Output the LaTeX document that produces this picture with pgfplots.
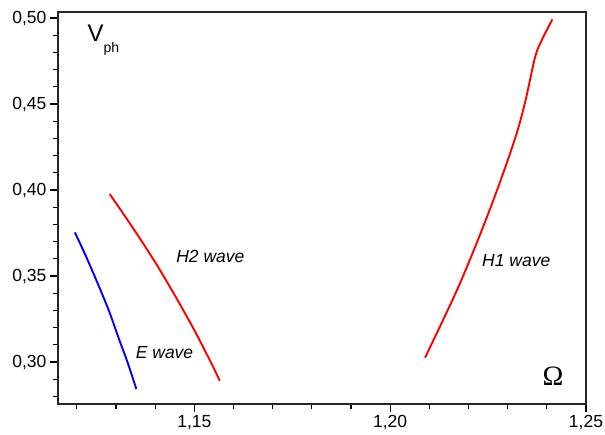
\documentclass[border=0pt]{standalone}
\usepackage{fontspec}
\setmainfont{Liberation Sans}
\newfontfamily\seriffont{Liberation Serif}
\usepackage{pgfplots}
\pgfplotsset{compat=1.18}
\begin{document}
\begin{tikzpicture}
\begin{axis}[
  at={(0pt,0pt)}, anchor=south west,
  scale only axis, width=528pt, height=392pt,
  xmin=1.1152, xmax=1.25, ymin=0.2756, ymax=0.5035,
  xtick={1.15,1.20,1.25},
  ytick={0.30,0.35,0.40,0.45,0.50},
  minor xtick={1.12,1.13,1.14,1.16,1.17,1.18,1.19,1.21,1.22,1.23,1.24},
  minor ytick={0.28,0.29,0.31,0.32,0.33,0.34,0.36,0.37,0.38,0.39,0.41,0.42,0.43,0.44,0.46,0.47,0.48,0.49},
  xtick pos=bottom, ytick pos=left,
  tick align=outside,
  major tick length=8pt, minor tick length=5pt,
  every tick/.style={black, line width=1.1pt},
  axis line style={line width=1.4pt, black!85},
  tick label style={font=\fontsize{17.5}{20}\selectfont},
  /pgf/number format/assume math mode=true,
  /pgf/number format/.cd, fixed, fixed zerofill, precision=2, use comma,
]
% E wave
\addplot[blue, line width=1.9pt, smooth] coordinates {
  (1.1195,0.3754) (1.1222,0.3622) (1.1255,0.3448) (1.1283,0.3292) (1.1307,0.3138) (1.1329,0.3002) (1.1352,0.2843)
};
% H2 wave
\addplot[red, line width=1.9pt, smooth] coordinates {
  (1.1284,0.3977) (1.1344,0.3777) (1.1401,0.3577) (1.1453,0.3377) (1.1502,0.3177) (1.1547,0.2977) (1.1565,0.2890)
};
% H1 wave
\addplot[red, line width=1.9pt, smooth] coordinates {
  (1.2089,0.3025) (1.2131,0.3225) (1.2172,0.3425) (1.2209,0.3625) (1.2244,0.3825) (1.2277,0.4025)
  (1.2308,0.4225) (1.2329,0.4375) (1.2346,0.4525) (1.2358,0.4650) (1.2366,0.4735) (1.2375,0.4810)
  (1.2391,0.4890) (1.2414,0.4992)
};
\node[anchor=base, font=\fontsize{17.5}{20}\selectfont\itshape] at (axis cs:1.1541,0.3581) {H2 wave};
\node[anchor=base, font=\fontsize{17.5}{20}\selectfont\itshape] at (axis cs:1.1424,0.3023) {E wave};
\node[anchor=base, font=\fontsize{17.5}{20}\selectfont\itshape] at (axis cs:1.2322,0.3558) {H1 wave};
\node[anchor=base west, inner sep=0pt, font=\fontsize{24}{28}\selectfont] at (axis cs:1.1227,0.4866) {V\raisebox{-11pt}{\fontsize{14}{16}\selectfont ph}};
\node[anchor=base, inner sep=0pt, font=\fontsize{28}{32}\selectfont\seriffont] at (axis cs:1.2416,0.2866) {Ω};
\end{axis}
\pgfresetboundingbox
\path (-58pt,-30pt) rectangle (547pt,404pt);
\end{tikzpicture}
\end{document}
